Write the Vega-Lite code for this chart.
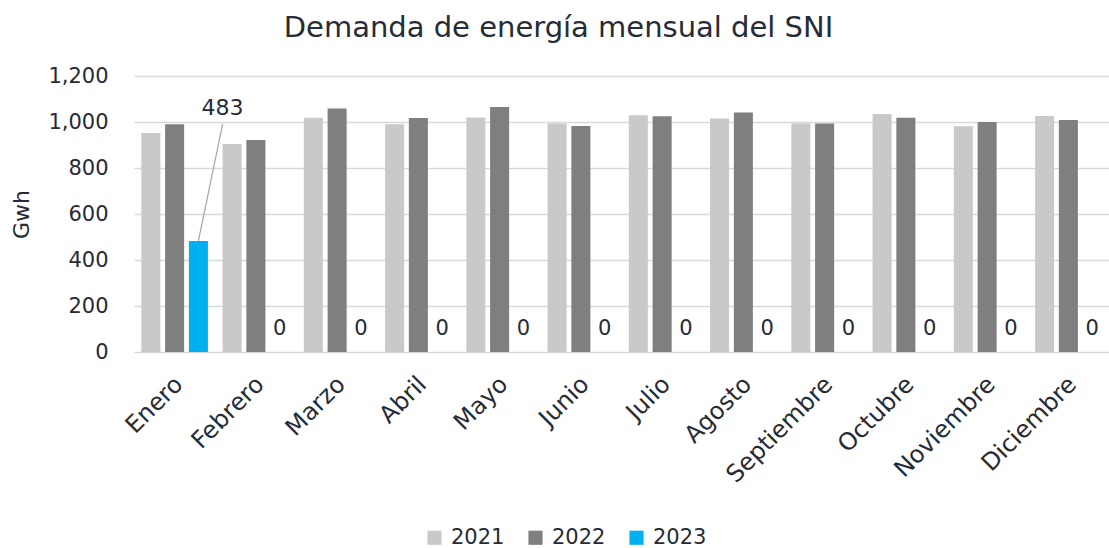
{
  "$schema": "https://vega.github.io/schema/vega-lite/v6.json",
  "width": 975,
  "height": 276,
  "autosize": "none",
  "padding": {"left": 134, "top": 76, "right": 0, "bottom": 196},
  "background": "white",
  "title": {
    "text": "Demanda de energía mensual del SNI",
    "fontSize": 29,
    "fontWeight": 500,
    "font": "DejaVu Sans",
    "color": "#262b36",
    "anchor": "middle",
    "frame": "group",
    "dx": -63,
    "offset": 22
  },
  "config": {
    "font": "DejaVu Sans",
    "view": {"stroke": null},
    "axis": {"labelColor": "#262b36", "titleColor": "#262b36", "labelFont": "DejaVu Sans", "titleFont": "DejaVu Sans"}
  },
  "data": {
    "values": [
      {"mes": "Enero", "anio": "2021", "valor": 952},
      {"mes": "Enero", "anio": "2022", "valor": 990},
      {"mes": "Enero", "anio": "2023", "valor": 483},
      {"mes": "Febrero", "anio": "2021", "valor": 904},
      {"mes": "Febrero", "anio": "2022", "valor": 922},
      {"mes": "Febrero", "anio": "2023", "valor": 0},
      {"mes": "Marzo", "anio": "2021", "valor": 1019},
      {"mes": "Marzo", "anio": "2022", "valor": 1059},
      {"mes": "Marzo", "anio": "2023", "valor": 0},
      {"mes": "Abril", "anio": "2021", "valor": 990},
      {"mes": "Abril", "anio": "2022", "valor": 1017},
      {"mes": "Abril", "anio": "2023", "valor": 0},
      {"mes": "Mayo", "anio": "2021", "valor": 1020},
      {"mes": "Mayo", "anio": "2022", "valor": 1065},
      {"mes": "Mayo", "anio": "2023", "valor": 0},
      {"mes": "Junio", "anio": "2021", "valor": 993},
      {"mes": "Junio", "anio": "2022", "valor": 983},
      {"mes": "Junio", "anio": "2023", "valor": 0},
      {"mes": "Julio", "anio": "2021", "valor": 1029},
      {"mes": "Julio", "anio": "2022", "valor": 1025},
      {"mes": "Julio", "anio": "2023", "valor": 0},
      {"mes": "Agosto", "anio": "2021", "valor": 1015},
      {"mes": "Agosto", "anio": "2022", "valor": 1041},
      {"mes": "Agosto", "anio": "2023", "valor": 0},
      {"mes": "Septiembre", "anio": "2021", "valor": 993},
      {"mes": "Septiembre", "anio": "2022", "valor": 994},
      {"mes": "Septiembre", "anio": "2023", "valor": 0},
      {"mes": "Octubre", "anio": "2021", "valor": 1035},
      {"mes": "Octubre", "anio": "2022", "valor": 1019},
      {"mes": "Octubre", "anio": "2023", "valor": 0},
      {"mes": "Noviembre", "anio": "2021", "valor": 981},
      {"mes": "Noviembre", "anio": "2022", "valor": 1000},
      {"mes": "Noviembre", "anio": "2023", "valor": 0},
      {"mes": "Diciembre", "anio": "2021", "valor": 1026},
      {"mes": "Diciembre", "anio": "2022", "valor": 1009},
      {"mes": "Diciembre", "anio": "2023", "valor": 0}
    ]
  },
  "encoding": {
    "x": {
      "field": "mes",
      "type": "nominal",
      "sort": null,
      "scale": {"paddingInner": 0.18, "paddingOuter": 0.09},
      "axis": {
        "title": null,
        "labelAngle": -45,
        "labelFontSize": 24,
        "labelFontWeight": 500,
        "labelPadding": 20,
        "labelOffset": -4,
        "domain": false,
        "ticks": false,
        "grid": false
      }
    },
    "xOffset": {
      "field": "anio",
      "type": "nominal",
      "scale": {"paddingInner": 0.2, "paddingOuter": 0}
    }
  },
  "layer": [
    {
      "mark": {"type": "bar"},
      "encoding": {
        "y": {
          "field": "valor",
          "type": "quantitative",
          "scale": {"domain": [0, 1200]},
          "axis": {
            "title": "Gwh",
            "titleFontSize": 22,
            "titleFontWeight": 500,
            "titlePadding": 14,
            "labelFontSize": 21,
            "labelFontWeight": 500,
            "labelPadding": 26,
            "values": [0, 200, 400, 600, 800, 1000, 1200],
            "format": ",d",
            "domain": false,
            "ticks": false,
            "gridColor": "#d9d9d9",
            "gridWidth": 1.5
          }
        },
        "color": {
          "field": "anio",
          "type": "nominal",
          "scale": {"domain": ["2021", "2022", "2023"], "range": ["#c9c9c9", "#7f7f7f", "#00b0f0"]},
          "legend": {
            "title": null,
            "orient": "none",
            "legendX": 290,
            "legendY": 451,
            "direction": "horizontal",
            "symbolType": "square",
            "symbolSize": 200,
            "symbolStrokeWidth": 0,
            "labelFontSize": 21,
            "labelFontWeight": 500,
            "labelColor": "#262b36",
            "labelOffset": 6,
            "columnPadding": 20
          }
        }
      }
    },
    {
      "transform": [{"filter": "datum.anio == '2023' && datum.valor == 0"}],
      "mark": {"type": "text", "fontSize": 21, "fontWeight": 500, "color": "#262b36", "baseline": "alphabetic", "dy": -17},
      "encoding": {
        "y": {"field": "valor", "type": "quantitative"},
        "text": {"field": "valor", "type": "quantitative", "format": ",d"}
      }
    },
    {
      "transform": [{"filter": "datum.anio == '2023' && datum.valor > 0"}],
      "mark": {"type": "text", "fontSize": 22, "fontWeight": 500, "color": "#262b36", "baseline": "alphabetic", "dx": 24, "dy": -126},
      "encoding": {
        "y": {"field": "valor", "type": "quantitative"},
        "text": {"field": "valor", "type": "quantitative", "format": ",d"}
      }
    },
    {
      "transform": [{"filter": "datum.anio == '2023' && datum.valor > 0"}],
      "mark": {"type": "rule", "color": "#a6a6a6", "strokeWidth": 1.2, "x2Offset": 48},
      "encoding": {
        "x2": {"field": "mes"},
        "y": {"field": "valor", "type": "quantitative"},
        "y2": {"datum": 991}
      }
    }
  ]
}
